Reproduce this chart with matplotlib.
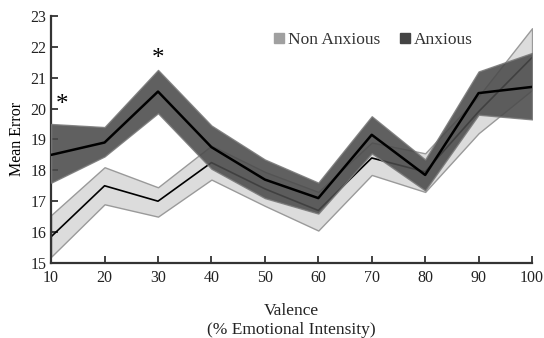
import matplotlib
matplotlib.use("Agg")
import matplotlib.pyplot as plt
from matplotlib.lines import Line2D

valence = [10, 20, 30, 40, 50, 60, 70, 80, 90, 100]

non_mean = [15.85, 17.5, 17.0, 18.25, 17.4, 16.7, 18.4, 17.95, 19.9, 21.65]
non_upper = [16.55, 18.1, 17.45, 18.8, 17.95, 17.3, 18.9, 18.55, 20.4, 22.6]
non_lower = [15.2, 16.9, 16.5, 17.7, 16.85, 16.05, 17.85, 17.3, 19.2, 20.6]

anx_mean = [18.5, 18.9, 20.55, 18.75, 17.7, 17.1, 19.15, 17.85, 20.5, 20.7]
anx_upper = [19.5, 19.4, 21.25, 19.45, 18.35, 17.6, 19.75, 18.35, 21.2, 21.8]
anx_lower = [17.6, 18.45, 19.85, 18.05, 17.1, 16.6, 18.55, 17.35, 19.8, 19.65]

star_x = [12, 30]
star_y = [20.1, 21.6]

plt.rcParams['font.family'] = ['Liberation Serif', 'DejaVu Serif']

fig = plt.figure(figsize=(5.44, 3.38), dpi=100)
ax = fig.add_axes([0.094, 0.222, 0.884, 0.731])

ax.fill_between(valence, non_lower, non_upper, facecolor='#dcdcdc', edgecolor='#9a9a9a', linewidth=1.0, zorder=1)
ax.plot(valence, non_mean, color='black', linewidth=1.2, zorder=2)
ax.fill_between(valence, anx_lower, anx_upper, facecolor='#4a4a4a', edgecolor='#7a7a7a', linewidth=1.0, alpha=0.88, zorder=3)
ax.plot(valence, anx_mean, color='black', linewidth=1.8, zorder=4)

for sx, sy in zip(star_x, star_y):
    ax.text(sx, sy, '*', ha='center', va='center', fontsize=18, zorder=5)

ax.set_xlim(10, 100)
ax.set_ylim(15, 23)
ax.set_xticks(valence)
ax.set_yticks(range(15, 24))
ax.tick_params(direction='in', length=5, width=1.2, labelsize=11.5, colors='#222222')
ax.tick_params(axis='x', pad=5)
for s in ['top', 'right']:
    ax.spines[s].set_visible(False)
for s in ['left', 'bottom']:
    ax.spines[s].set_linewidth(1.6)
    ax.spines[s].set_color('#333333')

ax.set_ylabel('Mean Error', fontsize=11.5, labelpad=4)
fig.text(0.535, 1 - 311 / 338, 'Valence', ha='center', va='center', fontsize=12.5, color='#222222')
fig.text(0.535, 1 - 330 / 338, '(% Emotional Intensity)', ha='center', va='center', fontsize=12.5, color='#222222')

handles = [
    Line2D([0], [0], marker='s', color='none', markerfacecolor='#a0a0a0', markeredgecolor='#a0a0a0', markersize=7),
    Line2D([0], [0], marker='s', color='none', markerfacecolor='#444444', markeredgecolor='#444444', markersize=7),
]
ax.legend(handles, ['Non Anxious', 'Anxious'], loc='upper right', bbox_to_anchor=(0.91, 1.0),
          ncol=2, frameon=False, fontsize=12.5, handletextpad=0.05, columnspacing=0.9,
          handlelength=1.0, labelcolor='#333333')

fig.savefig('out.png', dpi=100)
